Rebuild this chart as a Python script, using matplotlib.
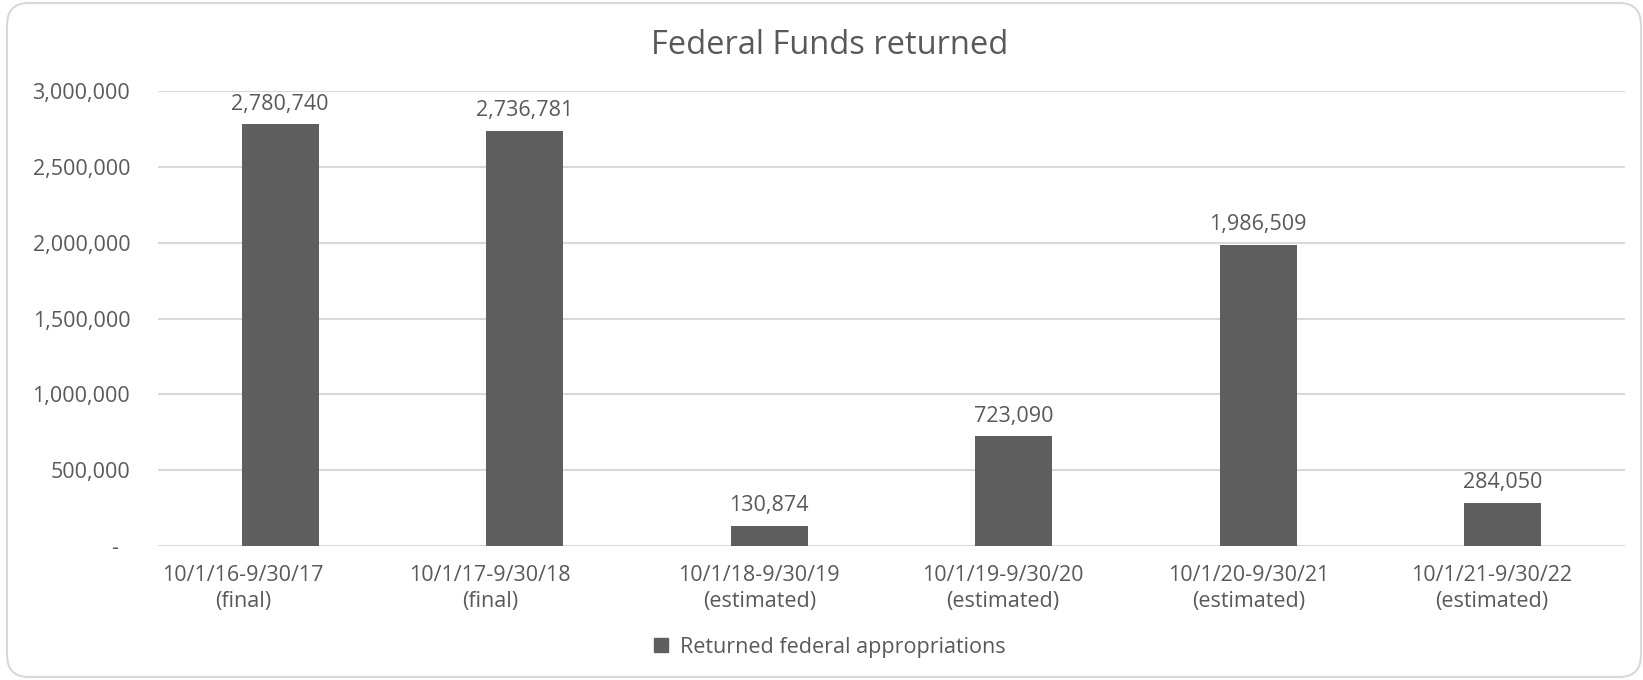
import matplotlib.pyplot as plt
from matplotlib.patches import FancyBboxPatch, Patch
from matplotlib.ticker import FuncFormatter
from matplotlib.transforms import IdentityTransform, ScaledTranslation

plt.rcParams["font.family"] = ["Open Sans", "DejaVu Sans"]

periods = ["10/1/16-9/30/17\n(final)", "10/1/17-9/30/18\n(final)",
           "10/1/18-9/30/19\n(estimated)", "10/1/19-9/30/20\n(estimated)",
           "10/1/20-9/30/21\n(estimated)", "10/1/21-9/30/22\n(estimated)"]
returned = [2780740, 2736781, 130874, 723090, 1986509, 284050]
y_ticks = [0, 500000, 1000000, 1500000, 2000000, 2500000, 3000000]

TEXT = "#595959"
BAR = "#5f5f5f"
GRID = "#d9d9d9"
FS = 15.5

# category labels sit a bit left of their bars in the original
label_shift_px = [-37, -35, -10, -11, -10, -11]

fig = plt.figure(figsize=(16.43, 6.80), dpi=100, facecolor="white")

# rounded chart border, in pixels
border = FancyBboxPatch((7, 3), 1634, 674,
                        boxstyle="round,pad=0,rounding_size=22",
                        transform=IdentityTransform(), facecolor="none",
                        edgecolor=GRID, linewidth=1.5, zorder=-1)
fig.patches.append(border)

ax = fig.add_axes([158 / 1643, 1 - 546 / 680, 1467 / 1643, 455 / 680])
ax.set_facecolor("none")

x = range(len(periods))
ax.bar(x, returned, width=0.315, color=BAR, zorder=3)

for xi, v in zip(x, returned):
    ax.annotate(f"{v:,}", (xi, v), xytext=(0, 7), textcoords="offset points",
                ha="center", va="bottom", fontsize=FS, color=TEXT)

ax.set_xlim(-0.5, len(periods) - 0.5)
ax.set_ylim(0, 3000000)
ax.set_yticks(y_ticks)
ax.yaxis.set_major_formatter(FuncFormatter(lambda v, p: "-  " if v == 0 else f"{int(v):,}"))
ax.set_xticks(list(x))
ax.set_xticklabels(periods, fontsize=FS, color=TEXT, linespacing=1.3)
ax.tick_params(axis="y", labelsize=FS, labelcolor=TEXT, length=0, pad=20)
ax.tick_params(axis="x", length=0, pad=14)
ax.grid(axis="y", color=GRID, linewidth=1.5, zorder=0)
for s in ax.spines.values():
    s.set_visible(False)

for lbl, dx in zip(ax.get_xticklabels(), label_shift_px):
    lbl.set_transform(lbl.get_transform() + ScaledTranslation(dx / 100, 0, fig.dpi_scale_trans))

fig.text(0.505, 1 - 45 / 680, "Federal Funds returned", ha="center", va="center",
         fontsize=23.5, color=TEXT)

fig.legend(handles=[Patch(color=BAR, label="Returned federal appropriations")],
           loc="center", bbox_to_anchor=(0.505, 1 - 647 / 680), frameon=False,
           fontsize=FS, labelcolor=TEXT, handlelength=0.65, handleheight=0.65,
           handletextpad=0.55)

fig.savefig("out.png", dpi=100)
